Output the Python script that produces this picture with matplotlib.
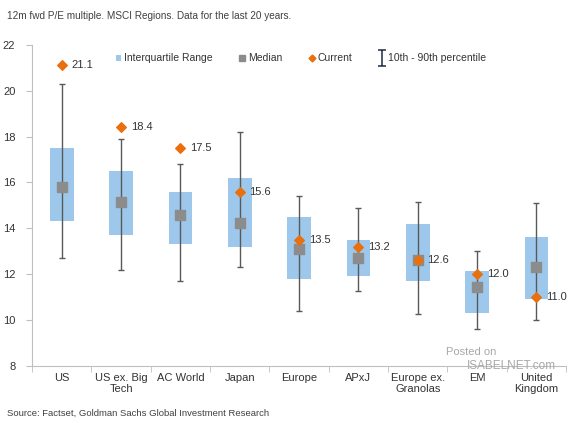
import matplotlib
matplotlib.use("Agg")
import matplotlib.pyplot as plt
from matplotlib.lines import Line2D
from matplotlib.patches import Patch
from matplotlib.path import Path
import numpy as np

categories = ["US", "US ex. Big\nTech", "AC World", "Japan", "Europe", "APxJ",
              "Europe ex.\nGranolas", "EM", "United\nKingdom"]
q25 = [14.3, 13.7, 13.3, 13.2, 11.8, 11.9, 11.7, 10.3, 10.9]
q75 = [17.5, 16.5, 15.6, 16.2, 14.5, 13.5, 14.2, 12.15, 13.6]
median = [15.8, 15.15, 14.6, 14.25, 13.1, 12.7, 12.6, 11.45, 12.3]
p10 = [12.7, 12.2, 11.7, 12.3, 10.4, 11.25, 10.25, 9.6, 10.0]
p90 = [20.3, 17.9, 16.8, 18.2, 15.4, 14.9, 15.15, 13.0, 15.1]
current = [21.1, 18.4, 17.5, 15.6, 13.5, 13.2, 12.6, 12.0, 11.0]

BLUE = "#9DC8EC"
GREY = "#8C8C8C"
ORANGE = "#E8700F"
DARK = "#595959"
TXT = "#333333"

plt.rcParams['font.family'] = ['Liberation Sans', 'DejaVu Sans']

fig = plt.figure(figsize=(5.73, 4.23), dpi=100)
ax = fig.add_axes([0.056, 0.135, 0.932, 0.759])

x = np.arange(len(categories))
q25a = np.array(q25); q75a = np.array(q75)
ax.bar(x, q75a - q25a, bottom=q25a, width=0.4, color=BLUE, zorder=1)
med = np.array(median)
ax.errorbar(x, med, yerr=[med - np.array(p10), np.array(p90) - med], fmt='none',
            ecolor=DARK, elinewidth=1.0, capsize=2.5, capthick=1.0, zorder=2)
ax.scatter(x, median, marker='s', s=48, color=GREY, zorder=3)
ax.scatter(x, current, marker='D', s=24, color=ORANGE, zorder=4)
for xi, c in zip(x, current):
    ax.annotate(f"{c:.1f}", (xi, c), xytext=(7, 0), textcoords='offset points',
                va='center', ha='left', fontsize=8, color=TXT)

ax.set_xlim(-0.5, len(categories) - 0.5)
ax.set_ylim(8, 22)
ax.set_yticks(range(8, 23, 2))
ax.set_xticks(x)
ax.set_xticklabels(categories, fontsize=8, color=TXT, linespacing=1.2)
ax.tick_params(axis='x', length=0, pad=5)
ax.set_xticks(np.arange(-0.5, len(categories), 1), minor=True)
ax.tick_params(axis='x', which='minor', length=4, color='#BFBFBF', direction='out')
ax.tick_params(axis='y', labelsize=8, labelcolor=TXT, length=4, color='#BFBFBF',
               direction='out', pad=8)
for s in ['top', 'right']:
    ax.spines[s].set_visible(False)
for s in ['left', 'bottom']:
    ax.spines[s].set_color('#BFBFBF')
    ax.spines[s].set_linewidth(0.8)

ibeam = Path([(-0.5, 1), (0.5, 1), (0, 1), (0, -1), (-0.5, -1), (0.5, -1)],
             [Path.MOVETO, Path.LINETO, Path.MOVETO, Path.LINETO, Path.MOVETO, Path.LINETO])
handles = [Patch(facecolor=BLUE, edgecolor='none'),
           Line2D([], [], marker='s', ls='none', color=GREY, markersize=4.5),
           Line2D([], [], marker='D', ls='none', color=ORANGE, markersize=3.5),
           Line2D([], [], marker=ibeam, ls='none', markerfacecolor='none',
                  markeredgecolor='#1F2A44', markeredgewidth=1.1, markersize=11)]
labels = ["Interquartile Range", "Median", "Current", "10th - 90th percentile"]
leg = ax.legend(handles, labels, loc='upper left', bbox_to_anchor=(0.145, 0.993), ncol=4,
                frameon=False, fontsize=7.5, handlelength=0.5, handleheight=0.5,
                handletextpad=0.3, columnspacing=2.6, borderaxespad=0.2)
for t in leg.get_texts():
    t.set_color(TXT)

fig.text(0.012, 0.962, "12m fwd P/E multiple. MSCI Regions. Data for the last 20 years.",
         fontsize=7.2, color='#404040', ha='left', va='center')
fig.text(0.012, 0.022, "Source: Factset, Goldman Sachs Global Investment Research",
         fontsize=6.8, color='#404040', ha='left', va='center')
fig.text(0.778, 0.168, "Posted on", fontsize=8, color='#A8A8A8', ha='left', va='center')
fig.text(0.815, 0.135, "ISABELNET.com", fontsize=8.5, color='#A8A8A8', ha='left', va='center')

fig.savefig("out.png", dpi=100)
